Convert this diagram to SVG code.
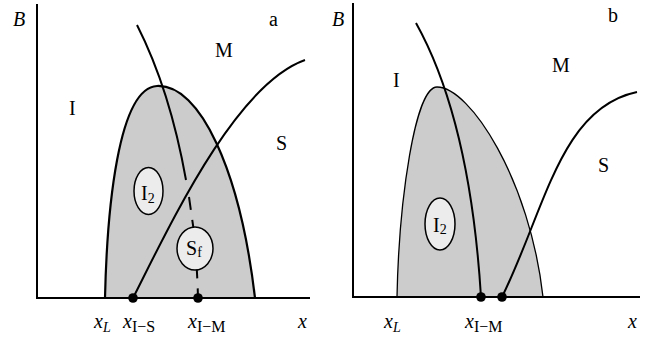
<svg xmlns="http://www.w3.org/2000/svg" width="659" height="340" viewBox="0 0 659 340">
<style>
text{font-family:"Liberation Serif","Times New Roman",serif;fill:#000}
.lbl{font-size:20px}
.it{font-style:italic}
.sub{font-size:14px}
.xs{font-size:16px;font-style:normal}
.ax{stroke:#000;stroke-width:2;fill:none}
.ln{stroke:#000;stroke-width:2;fill:none}
.dome{fill:#cccccc;stroke:#000}
.oval{fill:#ececec;stroke:#000;stroke-width:1.5}
.dot{fill:#000}
</style>
<rect width="659" height="340" fill="#fff"/>
<g id="panel-a">
  <g id="a-region-gray"><path class="dome" stroke-width="2.2" d="M105,298 C107,210 118,88 157,86 C200,84 240,170 255,298 Z"/></g>
  <g id="a-connectors">
    <path class="ln" d="M137,25 Q170,90 186,180"/>
    <path class="ln" stroke-dasharray="13 10" d="M189,197 L193,225 Q197,260 198,298"/>
    <path class="ln" d="M133,298 C170,225 235,85 305,60"/>
  </g>
  <g id="a-axes">
    <path class="ax" d="M37,4 V298 H310"/>
  </g>
  <g id="a-I2"><ellipse class="oval" cx="148.5" cy="191" rx="14.5" ry="23.5"/>
    <text x="141" y="200" class="lbl">I<tspan class="sub" dy="3">2</tspan></text></g>
  <g id="a-Sf"><ellipse class="oval" cx="195" cy="248.5" rx="18" ry="21.5"/>
    <text x="186" y="255" class="lbl">S<tspan class="sub" dy="2">f</tspan></text></g>
  <g id="a-xIS"><circle class="dot" cx="133" cy="298" r="4.8"/></g>
  <g id="a-xIM"><circle class="dot" cx="198" cy="298" r="4.8"/></g>
  <g id="a-labels">
    <text x="13" y="26" class="lbl it">B</text>
    <text x="269" y="26" class="lbl">a</text>
    <text x="215" y="57" class="lbl">M</text>
    <text x="69" y="115" class="lbl">I</text>
    <text x="276" y="150" class="lbl">S</text>
    <text x="94" y="328" class="lbl it">x<tspan class="sub" dy="4">L</tspan></text>
    <text x="123" y="328" class="lbl it">x<tspan class="xs" dy="4">I−S</tspan></text>
    <text x="188" y="328" class="lbl it">x<tspan class="xs" dy="4">I−M</tspan></text>
    <text x="298" y="328" class="lbl it">x</text>
  </g>
</g>
<g id="panel-b">
  <g id="b-region-gray"><path class="dome" stroke-width="1.3" d="M397,297 C399,200 415,87 437,87 C470,87 530,180 543,297 Z"/></g>
  <g id="b-connectors">
    <path class="ln" d="M416,23 Q470,120 481,297"/>
    <path class="ln" d="M502,297 C545,210 560,108 637,92"/>
  </g>
  <g id="b-axes">
    <path class="ax" d="M353,3 V297 H640"/>
  </g>
  <g id="b-I2"><ellipse class="oval" cx="440" cy="224" rx="15" ry="26"/>
    <text x="433" y="232" class="lbl">I<tspan class="sub" dy="2">2</tspan></text></g>
  <g id="b-xIM"><circle class="dot" cx="481" cy="297" r="4.8"/></g>
  <g id="b-xIS"><circle class="dot" cx="502" cy="297" r="4.8"/></g>
  <g id="b-labels">
    <text x="332" y="26" class="lbl it">B</text>
    <text x="608" y="22" class="lbl">b</text>
    <text x="552" y="72" class="lbl">M</text>
    <text x="393" y="87" class="lbl">I</text>
    <text x="598" y="172" class="lbl">S</text>
    <text x="384" y="328" class="lbl it">x<tspan class="sub" dy="4">L</tspan></text>
    <text x="465" y="328" class="lbl it">x<tspan class="xs" dy="4">I−M</tspan></text>
    <text x="628" y="328" class="lbl it">x</text>
  </g>
</g>
</svg>
